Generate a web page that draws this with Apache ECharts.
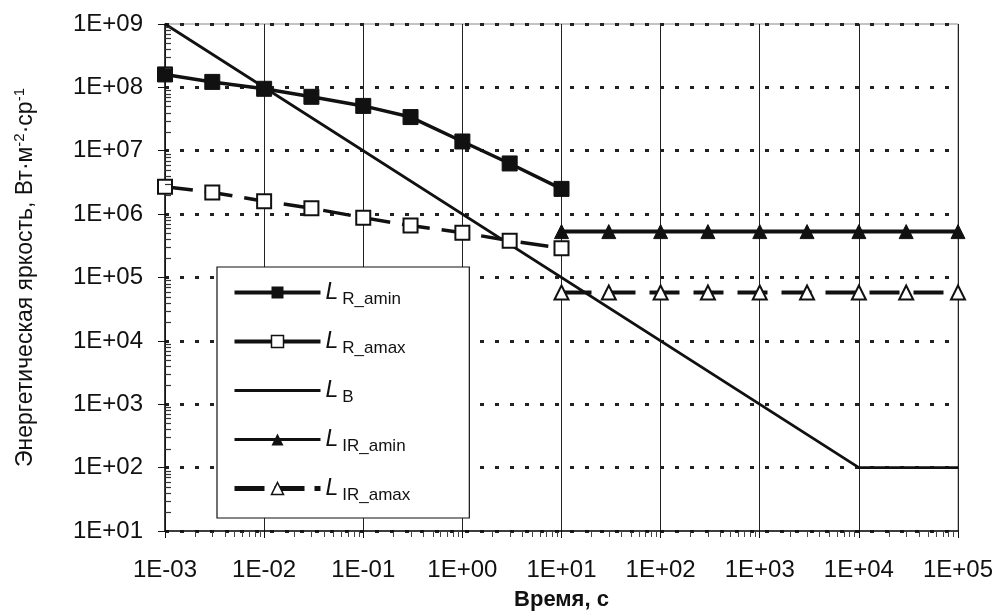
<!DOCTYPE html>
<html><head><meta charset="utf-8">
<script src="https://cdn.jsdelivr.net/npm/echarts@6/dist/echarts.min.js"></script>
<style>html,body{margin:0;padding:0;background:#fff}#c{width:1000px;height:616px}</style>
</head><body><div id="c"></div>
<script>
// ---- data ----
const tR = [1e-3, 3e-3, 1e-2, 3e-2, 1e-1, 3e-1, 1, 3, 10];
const L_R_amin = [1.6e8, 1.22e8, 9.5e7, 7.1e7, 5.1e7, 3.4e7, 1.4e7, 6.3e6, 2.5e6];
const L_R_amax = [2.7e6, 2.2e6, 1.6e6, 1.24e6, 8.8e5, 6.6e5, 5.1e5, 3.8e5, 2.9e5];
const tB = [1e-3, 1e4, 1e5];
const L_B = [1e9, 1e2, 1e2];
const tIR = [10, 30, 100, 300, 1000, 3000, 1e4, 3e4, 1e5];
const L_IR_amin = [5.3e5, 5.3e5, 5.3e5, 5.3e5, 5.3e5, 5.3e5, 5.3e5, 5.3e5, 5.3e5];
const L_IR_amax = [5.8e4, 5.8e4, 5.8e4, 5.8e4, 5.8e4, 5.8e4, 5.8e4, 5.8e4, 5.8e4];
const seriesNames = ['L_R_amin', 'L_R_amax', 'L_B', 'L_IR_amin', 'L_IR_amax'];
const legendSub = {L_R_amin: 'R_amin', L_R_amax: 'R_amax', L_B: 'B', L_IR_amin: 'IR_amin', L_IR_amax: 'IR_amax'};
const xTitle = 'Время, с';
const yTitle = 'Энергетическая яркость, Вт·м{sup|-2}·ср{sup|-1}';
const xDecades = [-3, 5];
const yDecades = [1, 9];

function zip(xs, ys) { return xs.map((x, i) => [x, ys[i]]); }
function fmtE(v) {
  const e = Math.round(Math.log10(v));
  const s = e < 0 ? '-' : '+';
  const a = Math.abs(e);
  return '1E' + s + (a < 10 ? '0' + a : '' + a);
}
function minorVals(d0, d1) {
  const out = [];
  for (let e = d0; e < d1; e++) for (let k = 2; k <= 9; k++) out.push(k * Math.pow(10, e));
  return out;
}
const FONT = 'Liberation Sans';
const C = '#111';
const legendData = [
  {name: 'L_R_amin', lineStyle: {width: 4, color: C}, itemStyle: {color: C, borderColor: C}},
  {name: 'L_R_amax', lineStyle: {width: 4, color: C, type: 'solid'}, itemStyle: {color: '#fff', borderColor: C, borderWidth: 1.5}},
  {name: 'L_B', lineStyle: {width: 3, color: C}, itemStyle: {opacity: 0}},
  {name: 'L_IR_amin', lineStyle: {width: 3, color: C}, itemStyle: {color: C, borderColor: C}},
  {name: 'L_IR_amax', lineStyle: {width: 5, color: C, type: [30, 10]}, itemStyle: {color: '#fff', borderColor: C, borderWidth: 1.5}}
];
const chart = echarts.init(document.getElementById('c'));
chart.setOption({
  animation: false,
  backgroundColor: '#fff',
  grid: {left: 165, right: 42, top: 24, bottom: 84, show: true, borderColor: '#888', borderWidth: 1},
  xAxis: {
    type: 'log', logBase: 10, min: Math.pow(10, xDecades[0]), max: Math.pow(10, xDecades[1]),
    name: xTitle, nameLocation: 'middle', nameGap: 58,
    nameTextStyle: {fontFamily: FONT, fontWeight: 'bold', fontSize: 22, color: C},
    axisLine: {show: true, lineStyle: {color: C, width: 1.5}},
    axisTick: {show: true, length: 7, lineStyle: {color: C}},
    axisLabel: {formatter: fmtE, fontFamily: FONT, fontSize: 24, color: C, margin: 27},
    splitLine: {show: true, lineStyle: {color: '#222', width: 1}}
  },
  yAxis: {
    type: 'log', logBase: 10, min: Math.pow(10, yDecades[0]), max: Math.pow(10, yDecades[1]),
    name: yTitle, nameLocation: 'middle', nameGap: 126, nameRotate: 90,
    nameTextStyle: {fontFamily: FONT, fontSize: 23, color: C,
      rich: {sup: {fontFamily: FONT, fontSize: 15, color: C, verticalAlign: 'top', padding: [0, 0, 12, 0]}}},
    axisLine: {show: true, lineStyle: {color: C, width: 1.5}},
    axisTick: {show: true, length: 7, lineStyle: {color: C}},
    axisLabel: {formatter: fmtE, fontFamily: FONT, fontSize: 24, color: C, margin: 22},
    splitLine: {show: true, lineStyle: {color: '#222', width: 3, type: [4, 11]}}
  },
  legend: {
    orient: 'vertical', left: 217, top: 267,
    itemWidth: 86, itemHeight: 15, itemGap: 22,
    padding: [14, 59, 14, 15],
    backgroundColor: '#fff', borderColor: C, borderWidth: 1.2,
    data: legendData,
    formatter: n => '{L|L}{s|' + legendSub[n] + '}',
    textStyle: {
      fontFamily: FONT, color: C,
      rich: {
        L: {fontFamily: FONT, fontStyle: 'italic', fontSize: 23, color: C},
        s: {fontFamily: FONT, fontSize: 17, color: C, verticalAlign: 'bottom', padding: [14, 0, 0, 4]}
      }
    }
  },
  series: [
    {name: 'L_R_amin', type: 'line', data: zip(tR, L_R_amin), symbol: 'rect', symbolSize: 15,
     lineStyle: {color: C, width: 3.5}, itemStyle: {color: C, borderColor: C}, z: 5},
    {name: 'L_R_amax', type: 'line', data: zip(tR, L_R_amax), symbol: 'rect', symbolSize: 14,
     lineStyle: {color: C, width: 3.5, type: [28, 12]}, itemStyle: {color: '#fff', borderColor: C, borderWidth: 2}, z: 5},
    {name: 'L_B', type: 'line', data: zip(tB, L_B), symbol: 'circle', symbolSize: 0, showSymbol: false,
     lineStyle: {color: C, width: 2.8}, itemStyle: {color: C}, z: 4},
    {name: 'L_IR_amin', type: 'line', data: zip(tIR, L_IR_amin), symbol: 'triangle', symbolSize: 14,
     lineStyle: {color: C, width: 4}, itemStyle: {color: C, borderColor: C}, z: 5},
    {name: 'L_IR_amax', type: 'line', data: zip(tIR, L_IR_amax), symbol: 'triangle', symbolSize: 14,
     lineStyle: {color: C, width: 4, type: [30, 14]}, itemStyle: {color: '#fff', borderColor: C, borderWidth: 2}, z: 5}
  ]
});
// minor log ticks, positioned through the chart's own scales
const yMin = Math.pow(10, yDecades[0]);
const xMin = Math.pow(10, xDecades[0]);
const gfx = [];
minorVals(xDecades[0], xDecades[1]).forEach(v => {
  const p = chart.convertToPixel({gridIndex: 0}, [v, yMin]);
  gfx.push({type: 'line', shape: {x1: Math.round(p[0]) + 0.5, y1: p[1] + 1, x2: Math.round(p[0]) + 0.5, y2: p[1] + 6},
            style: {stroke: '#444', lineWidth: 1}, z: 10, silent: true});
});
minorVals(yDecades[0], yDecades[1]).forEach(v => {
  const p = chart.convertToPixel({gridIndex: 0}, [xMin, v]);
  gfx.push({type: 'line', shape: {x1: p[0], y1: Math.round(p[1]) + 0.5, x2: p[0] + 6, y2: Math.round(p[1]) + 0.5},
            style: {stroke: '#333', lineWidth: 1.2}, z: 10, silent: true});
});
chart.setOption({graphic: {elements: gfx}});
</script></body></html>
